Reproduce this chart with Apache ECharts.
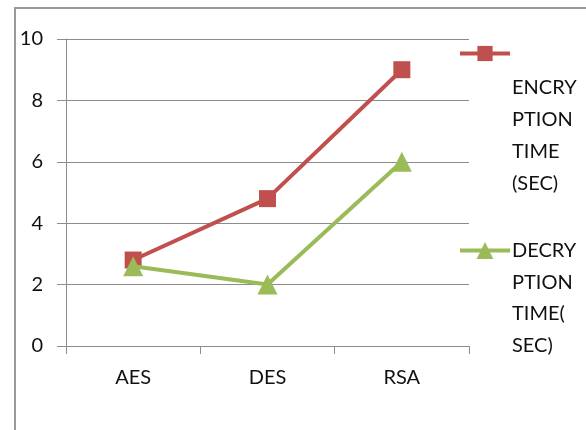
<!DOCTYPE html>
<html>
<head>
<meta charset="utf-8">
<script src="https://cdn.jsdelivr.net/npm/echarts@6/dist/echarts.min.js"></script>
<style>
  html, body { margin: 0; padding: 0; background: #fff; }
  #chart { width: 586px; height: 430px; }
</style>
</head>
<body>
<div id="chart"></div>
<script>
// Algorithms compared
const categories = ['AES', 'DES', 'RSA'];
// Times in seconds
const encryptionTime = [2.8, 4.8, 9.0];
const decryptionTime = [2.6, 2.0, 6.0];
// Series names and their wrapped legend captions
const encName = 'ENCRYPTION TIME (SEC)';
const decName = 'DECRYPTION TIME(SEC)';
const encCaption = ['ENCRY', 'PTION', 'TIME', '(SEC)'];
const decCaption = ['DECRY', 'PTION', 'TIME(', 'SEC)'];

const FONT = 'Lato, "Open Sans", sans-serif';
const RED = '#C0504D';
const GREEN = '#9BBB59';
const GRAY = '#8c8c8c';
const INK = '#111';

const chart = echarts.init(document.getElementById('chart'), null, { renderer: 'canvas' });

chart.setOption({
  animation: false,
  backgroundColor: '#fff',
  textStyle: { fontFamily: FONT },
  grid: { left: 66, right: 117, top: 39, bottom: 84, containLabel: false },
  xAxis: {
    type: 'category',
    data: categories,
    boundaryGap: true,
    axisLine: { lineStyle: { color: GRAY, width: 1 } },
    axisTick: { show: true, length: 8, lineStyle: { color: GRAY } },
    axisLabel: { color: INK, fontSize: 20, fontFamily: FONT, margin: 22 },
    splitLine: { show: false }
  },
  yAxis: {
    type: 'value',
    min: 0,
    max: 10,
    interval: 2,
    axisLine: { show: true, lineStyle: { color: GRAY, width: 1 } },
    axisTick: { show: true, length: 9, lineStyle: { color: GRAY } },
    axisLabel: { color: INK, fontSize: 20, fontFamily: FONT, margin: 23 },
    splitLine: { show: true, lineStyle: { color: GRAY, width: 1 } }
  },
  legend: [
    {
      data: [encName],
      left: 453, top: 39,
      itemWidth: 50, itemHeight: 19,
      lineStyle: { width: 4 },
      formatter: () => '',
      selectedMode: false
    },
    {
      data: [decName],
      left: 453, top: 235,
      itemWidth: 50, itemHeight: 21,
      lineStyle: { width: 4 },
      formatter: () => '',
      selectedMode: false
    }
  ],
  series: [
    {
      name: encName,
      type: 'line',
      data: encryptionTime,
      symbol: 'rect',
      symbolSize: 17,
      lineStyle: { color: RED, width: 4 },
      itemStyle: { color: RED },
      z: 2
    },
    {
      name: decName,
      type: 'line',
      data: decryptionTime,
      symbol: 'triangle',
      symbolSize: 20,
      lineStyle: { color: GREEN, width: 4 },
      itemStyle: { color: GREEN },
      z: 3
    }
  ],
  graphic: [
    {
      type: 'rect',
      shape: { x: 15, y: 8, width: 700, height: 500 },
      style: { fill: 'none', stroke: '#999', lineWidth: 2 },
      silent: true
    },
    {
      type: 'text',
      left: 512, top: 72,
      style: { text: encCaption.join('\n'), font: '20px ' + FONT, fill: INK, lineHeight: 32 },
      silent: true
    },
    {
      type: 'text',
      left: 512, top: 235,
      style: { text: decCaption.join('\n'), font: '20px ' + FONT, fill: INK, lineHeight: 31.5 },
      silent: true
    }
  ]
});
</script>
</body>
</html>
